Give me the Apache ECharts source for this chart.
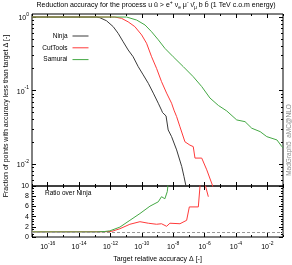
<!DOCTYPE html>
<html><head><meta charset="utf-8">
<script src="https://cdn.jsdelivr.net/npm/echarts@6/dist/echarts.min.js"></script>
<style>html,body{margin:0;padding:0;background:#fff}#c{width:292px;height:265px}</style>
</head><body><div id="c"></div>
<script>
// ---- data ----
const seriesNames = ['Ninja', 'CutTools', 'Samurai'];
const ninja = [[1e-17,1],[1.3e-13,1],[2.1e-13,0.98],[5.6e-13,0.89],[1.5e-12,0.74],[3.1e-12,0.6],[6.5e-12,0.46],[1.35e-11,0.356],[2.8e-11,0.288],[5.9e-11,0.211],[1.23e-10,0.163],[2.6e-10,0.125],[5.4e-10,0.092],[1.12e-9,0.067],[1.8e-9,0.054],[2.1e-9,0.05],[3.5e-9,0.045],[4.8e-9,0.029],[7.9e-9,0.0235],[1.66e-8,0.0155],[3.5e-8,0.0092],[4.9e-8,0.0067],[6.5e-8,0.005],[8e-8,0.003]];
const cutTools = [[1e-17,1],[1.9e-12,1],[5.1e-12,0.96],[1.35e-11,0.86],[3.6e-11,0.74],[9.8e-11,0.57],[2.0e-10,0.44],[4.2e-10,0.288],[8.7e-10,0.2],[1.8e-9,0.132],[3.8e-9,0.092],[7.9e-9,0.067],[1.12e-8,0.054],[1.66e-8,0.044],[2.7e-8,0.032],[5.6e-8,0.02],[1.17e-7,0.018],[1.9e-7,0.0172],[2.45e-7,0.012],[6.6e-7,0.012],[1.38e-6,0.0083],[3.3e-6,0.005],[4.5e-6,0.003]];
const samurai = [[1e-17,1],[1.07e-11,1],[4.7e-11,0.91],[1.6e-10,0.78],[4.2e-10,0.63],[1.12e-9,0.49],[2.95e-9,0.375],[1e-8,0.288],[4.4e-8,0.211],[1.9e-7,0.154],[6.6e-7,0.113],[2.2e-6,0.079],[7.6e-6,0.0625],[2.6e-5,0.0526],[1.12e-4,0.0397],[3.8e-4,0.0376],[1.02e-3,0.0306],[3.5e-3,0.0275],[9.3e-3,0.0235],[4.1e-2,0.0212],[8.5e-2,0.0172],[1e-1,0.0165]];
const cutToolsRatio = [[1e-17,1],[4.4e-13,1.03],[1.2e-12,1.1],[4e-12,1.62],[1.74e-11,2.5],[7.6e-11,3.0],[2.6e-10,2.7],[8.7e-10,2.5],[1.8e-9,2.6],[3.8e-9,2.1],[6.2e-9,2.7],[2.7e-8,2.6],[7.2e-8,3.27],[1.07e-7,5.9],[4e-7,5.9],[5.1e-7,9.9],[6.3e-7,13],[7.9e-7,13],[1.74e-6,7.9]];
const samuraiRatio = [[1e-17,1],[1.3e-13,1.0],[4.4e-13,1.08],[9.1e-13,1.2],[4e-12,1.94],[1.74e-11,3.27],[7.6e-11,4.6],[3.3e-10,6.04],[1.12e-9,6.9],[1.8e-9,7.9],[2.95e-9,7.5],[4.2e-9,8.9],[5.4e-9,12]];
const ratioReference = 1;
const xLabelTicks = [1e-16,1e-14,1e-12,1e-10,1e-8,1e-6,1e-4,1e-2];
const xMinorTicks = [1e-17,1e-15,1e-13,1e-11,1e-9,1e-7,1e-5,1e-3,1e-1];
const yTopMajor = [0.01,0.1,1];
const yTopMinor = [0.006,0.007,0.008,0.009,0.02,0.03,0.04,0.05,0.06,0.07,0.08,0.09,0.2,0.3,0.4,0.5,0.6,0.7,0.8,0.9];
const yRatioMax = 10, yRatioStep = 2;
const titleText = 'Reduction accuracy for the process u ū > e{sup|+} ν{sub|e} μ{sup|-} ν̄{sub|μ} b b̄ (1 TeV c.o.m energy)';

// ---- styling ----
const FONT = '"Liberation Sans", Arial, sans-serif';
const colors = ['#3a3a3a', '#ff3a3a', '#44a844'];
const chart = echarts.init(document.getElementById('c'));
const expLabel = v => '{b|10}{s|' + Math.round(Math.log10(v)) + '}';
const supRich = { b: {fontSize: 7, fontFamily: FONT, color: '#000', verticalAlign: 'bottom', lineHeight: 10},
                  s: {fontSize: 5, fontFamily: FONT, color: '#000', verticalAlign: 'top', lineHeight: 10} };

function xAx(grid, pos, ticks, len, labels) {
  return {
    type: 'log', logBase: 10, gridIndex: grid, position: pos, min: 1e-17, max: 1e-1,
    axisLine: {show: false}, splitLine: {show: false}, minorTick: {show: false},
    axisTick: {show: true, inside: true, length: len, customValues: ticks, lineStyle: {color: '#000', width: 1}},
    axisLabel: labels ? {show: true, customValues: xLabelTicks, formatter: expLabel, rich: supRich, margin: 4} : {show: false},
    name: labels ? 'Target relative accuracy Δ [-]' : '', nameLocation: 'middle', nameGap: 19,
    nameTextStyle: {fontSize: 7, fontFamily: FONT, color: '#000'}
  };
}
function yTop(pos, ticks, len, labels) {
  return {
    type: 'log', logBase: 10, gridIndex: 0, position: pos, min: 0.005, max: 1.1,
    axisLine: {show: false}, splitLine: {show: false}, minorTick: {show: false},
    axisTick: {show: true, inside: true, length: len, customValues: ticks, lineStyle: {color: '#000', width: 1}},
    axisLabel: labels ? {show: true, customValues: yTopMajor, formatter: expLabel, rich: supRich, margin: 3} : {show: false}
  };
}
function yBot(pos, labels) {
  return {
    type: 'value', gridIndex: 1, position: pos, min: 0, max: yRatioMax, interval: yRatioStep,
    axisLine: {show: false}, splitLine: {show: false},
    axisTick: {show: true, inside: true, length: 4, lineStyle: {color: '#000', width: 1}},
    minorTick: {show: true, splitNumber: 4, length: 2, lineStyle: {color: '#000', width: 1}},
    axisLabel: labels ? {show: true, fontSize: 7, fontFamily: FONT, color: '#000', margin: 3} : {show: false}
  };
}

const line = (name, data, xi, yi, color) => ({
  name, type: 'line', data, xAxisIndex: xi, yAxisIndex: yi, symbol: 'none', showSymbol: false,
  lineStyle: {color, width: 1}, itemStyle: {color}, clip: true, silent: true, animation: false
});

const option = {
  animation: false,
  textStyle: {fontFamily: FONT},
  grid: [
    {left: 32, right: 9, top: 14, height: 172, show: true, borderColor: '#000', borderWidth: 1, backgroundColor: 'transparent'},
    {left: 32, right: 9, top: 186, height: 51, show: true, borderColor: '#000', borderWidth: 1, backgroundColor: 'transparent'}
  ],
  legend: seriesNames.map((n, i) => ({
    data: [n], orient: 'vertical', right: 203, top: 32.5 + 11.8 * i, align: 'right', padding: 0,
    itemWidth: 16, itemHeight: 8, selectedMode: false,
    itemStyle: {opacity: 0}, lineStyle: {width: 1},
    textStyle: {fontSize: 6.5, fontFamily: FONT, color: '#000'}
  })),
  xAxis: [
    xAx(0, 'bottom', xLabelTicks, 4, false), xAx(0, 'bottom', xMinorTicks, 2, false),
    xAx(0, 'top', xLabelTicks, 4, false), xAx(0, 'top', xMinorTicks, 2, false),
    xAx(1, 'bottom', xLabelTicks, 4, true), xAx(1, 'bottom', xMinorTicks, 2, false),
    xAx(1, 'top', xLabelTicks, 4, false), xAx(1, 'top', xMinorTicks, 2, false)
  ],
  yAxis: [
    yTop('left', yTopMajor, 4, true), yTop('left', yTopMinor, 2, false),
    yTop('right', yTopMajor, 4, false), yTop('right', yTopMinor, 2, false),
    yBot('left', true), yBot('right', false)
  ],
  series: [
    line(seriesNames[0], ninja, 0, 0, colors[0]),
    line(seriesNames[1], cutTools, 0, 0, colors[1]),
    line(seriesNames[2], samurai, 0, 0, colors[2]),
    Object.assign(line('CutTools ratio', cutToolsRatio, 4, 4, colors[1]), {
      markLine: {silent: true, symbol: 'none', label: {show: false},
        lineStyle: {type: [3, 2], color: '#999', width: 1}, data: [{yAxis: ratioReference}]}
    }),
    line('Samurai ratio', samuraiRatio, 4, 4, colors[2])
  ],
  graphic: [
    {type: 'text', x: 156, y: 5, style: {text: titleText, x: 0, y: 0, align: 'center', verticalAlign: 'middle',
      fontSize: 7, fontFamily: FONT, fill: '#000', lineHeight: 10,
      rich: {sup: {fontSize: 5, verticalAlign: 'top', lineHeight: 10, fontFamily: FONT},
             sub: {fontSize: 5, verticalAlign: 'bottom', lineHeight: 10, fontFamily: FONT}}}},
    {type: 'text', x: 6, y: 116, rotation: Math.PI / 2, style: {text: 'Fraction of points with accuracy less than target Δ [-]',
      align: 'center', verticalAlign: 'middle', fontSize: 7, fontFamily: FONT, fill: '#000'}},
    {type: 'text', x: 289, y: 140, rotation: Math.PI / 2, style: {text: 'MadGraph5_aMC@NLO',
      align: 'center', verticalAlign: 'middle', fontSize: 6.5, fontFamily: FONT, fill: '#8c8c8c'}},
    {type: 'text', x: 45, y: 193.5, style: {text: 'Ratio over Ninja', align: 'left', verticalAlign: 'middle',
      fontSize: 6.5, fontFamily: FONT, fill: '#000'}}
  ]
};
chart.setOption(option);
</script></body></html>
